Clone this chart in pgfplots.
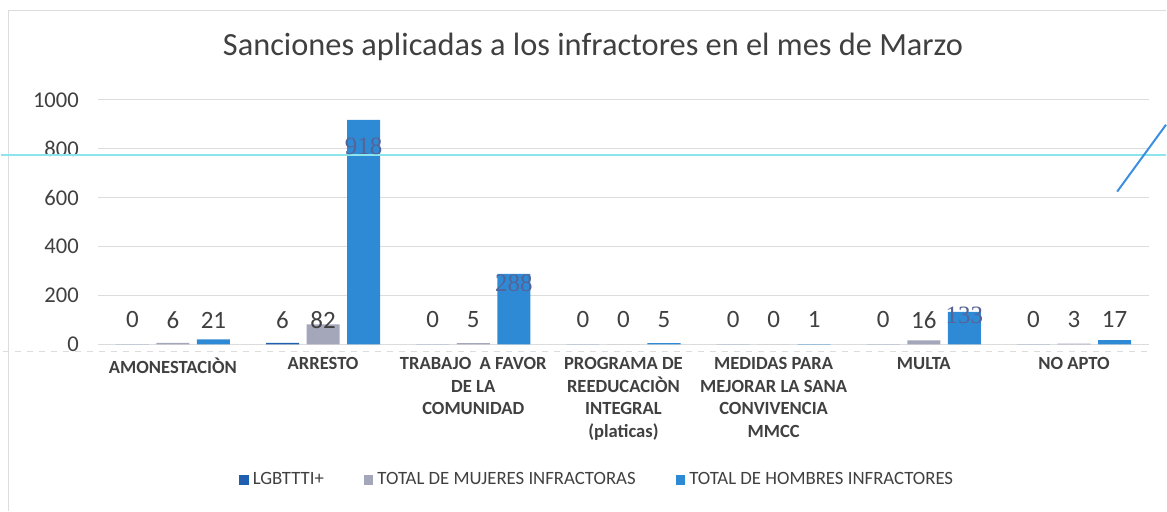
\documentclass[border=0pt]{standalone}
\usepackage{pgfplots}
\pgfplotsset{compat=1.18}
\usepackage{fontspec}
\setmainfont{Carlito}
\newfontfamily\serifnum{Liberation Serif}

\definecolor{lgbt}{RGB}{31,95,175}
\definecolor{mujeres}{RGB}{164,166,186}
\definecolor{hombres}{RGB}{47,138,214}
\definecolor{txt}{RGB}{64,64,64}
\definecolor{gridgray}{RGB}{220,220,220}
\definecolor{scancyan}{RGB}{140,228,236}
\definecolor{scanblue}{RGB}{60,143,224}
\definecolor{numcol}{RGB}{85,100,150}

\begin{document}
\begin{tikzpicture}
\begin{axis}[
  scale only axis,
  width=526.5pt, height=122.5pt,
  xmin=-0.5, xmax=6.5,
  ymin=0, ymax=1000,
  ytick={0,200,...,1000},
  xtick={0,...,6},
  xticklabels={AMONESTACIÒN, ARRESTO, {TRABAJO\ \ A FAVOR\\DE LA\\COMUNIDAD},
    {PROGRAMA DE\\REEDUCACIÒN\\INTEGRAL\\(platicas)},
    {MEDIDAS PARA\\MEJORAR LA SANA\\CONVIVENCIA\\MMCC}, MULTA, NO APTO},
  xticklabel style={font=\fontsize{9.3}{11.3}\selectfont\bfseries, text=txt,
    align=center, anchor=north, yshift=-3pt},
  yticklabel style={font=\fontsize{11.3}{13}\selectfont, text=txt, xshift=-6pt},
  /pgf/number format/assume math mode=true,
  /pgf/number format/1000 sep={},
  axis line style={draw=none},
  major tick length=0pt,
  xmajorgrids=false, ymajorgrids=true,
  major grid style={draw=gridgray, line width=0.6pt},
  clip=false,
  legend columns=3,
  legend style={draw=none, fill=none, at={(rel axis cs:0.476,-0.555)}, anchor=center,
    font=\fontsize{9.4}{11}\selectfont, text=txt,
    /tikz/every even column/.append style={column sep=18pt}},
  legend image code/.code={\fill[#1] (0pt,-2.4pt) rectangle (4.8pt,2.4pt);},
]
\addplot[ybar, bar width=0.22, bar shift=-0.27, fill=lgbt, draw=none]
  coordinates {(0,0) (1,6) (2,0) (3,0) (4,0) (5,0) (6,0)};
\addlegendentry{LGBTTTI+}
\addplot[ybar, bar width=0.22, bar shift=0, fill=mujeres, draw=none]
  coordinates {(0,6) (1,82) (2,5) (3,0) (4,0) (5,16) (6,3)};
\addlegendentry{TOTAL DE MUJERES INFRACTORAS}
\addplot[ybar, bar width=0.22, bar shift=0.27, fill=hombres, draw=none]
  coordinates {(0,21) (1,918) (2,288) (3,5) (4,1) (5,133) (6,17)};
\addlegendentry{TOTAL DE HOMBRES INFRACTORES}

% data labels
\addplot[draw=none, mark=none, forget plot, nodes near coords, point meta=explicit symbolic,
  nodes near coords style={anchor=center, text=txt, font=\fontsize{12.5}{14}\selectfont}]
  coordinates {
    (-0.27,100)[0] (0,100)[6] (0.27,100)[21]
    (0.73,100)[6] (1,100)[82]
    (1.73,100)[0] (2,100)[5]
    (2.73,100)[0] (3,100)[0] (3.27,100)[5]
    (3.73,100)[0] (4,100)[0] (4.27,100)[1]
    (4.73,100)[0] (5,100)[16]
    (5.73,100)[0] (6,100)[3] (6.27,100)[17]
  };
\addplot[draw=none, mark=none, forget plot, nodes near coords, point meta=explicit symbolic,
  nodes near coords style={anchor=center, text=numcol,
    font=\serifnum\fontsize{12.5}{14}\selectfont}]
  coordinates {(1.27,808)[918] (2.27,250)[288] (5.27,120)[133]};

\node[font=\fontsize{16.2}{19}\selectfont, text=txt] at (rel axis cs:0.471,1.216)
  {Sanciones aplicadas a los infractores en el mes de Marzo};

% scan artefacts
\draw[gridgray, line width=0.5pt] (rel axis cs:-0.0845,1.367) -- (rel axis cs:1.0161,1.367);
\draw[gridgray, line width=0.5pt] (rel axis cs:-0.0845,1.367) -- (rel axis cs:-0.0845,-0.6816);
\draw[gridgray, line width=0.5pt, dashed] (rel axis cs:-0.09,-0.03) -- (rel axis cs:1,-0.03);
\draw[scancyan, line width=1pt]
  (rel axis cs:-0.0921,0.7755) -- (rel axis cs:1.0161,0.7755);
\draw[scanblue, line width=1pt]
  (rel axis cs:0.9696,0.6245) -- (rel axis cs:1.0161,0.898);

\path (rel axis cs:-0.0921,-0.6816) rectangle (rel axis cs:1.0161,1.408);
\end{axis}
\end{tikzpicture}
\end{document}
